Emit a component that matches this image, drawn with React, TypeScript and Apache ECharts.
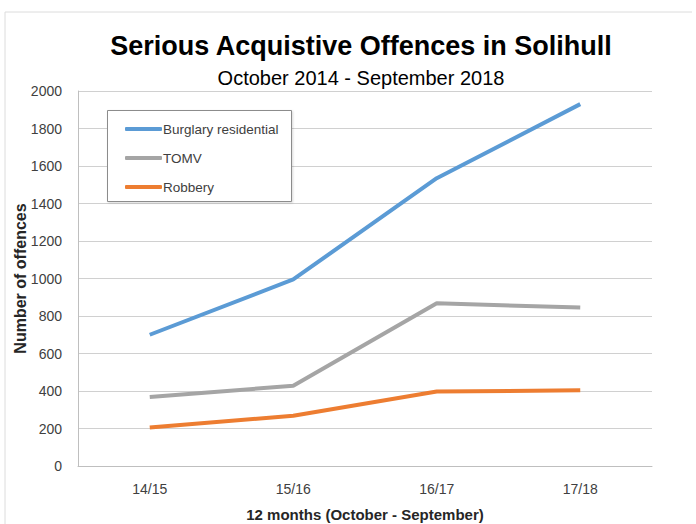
import React, { useEffect, useRef } from "react";
import * as echarts from "echarts";

const categories = ["14/15", "15/16", "16/17", "17/18"];
const burglary = [700, 995, 1535, 1930];
const tomv = [368, 428, 868, 845];
const robbery = [205, 268, 397, 404];
const seriesNames = ["Burglary residential", "TOMV", "Robbery"];
const colors = ["#5B9BD5", "#A5A5A5", "#ED7D31"];

export default function App() {
  const ref = useRef<HTMLDivElement>(null);
  useEffect(() => {
    if (!ref.current) return;
    const chart = echarts.init(ref.current, null, { renderer: "svg" });
    const font = "Liberation Sans, Arial, sans-serif";
    const dataSets = [burglary, tomv, robbery];
    chart.setOption({
      animation: false,
      backgroundColor: "#ffffff",
      title: {
        text: "Serious Acquistive Offences in Solihull",
        subtext: "October 2014 - September 2018",
        left: 356,
        top: 27,
        textAlign: "center",
        itemGap: 9,
        textStyle: { fontFamily: font, fontSize: 27, fontWeight: "bold", color: "#000" },
        subtextStyle: { fontFamily: font, fontSize: 20, color: "#000" },
      },
      graphic: [
        { type: "line", shape: { x1: 5, y1: 12, x2: 692, y2: 12 }, style: { stroke: "#dcdcdc", lineWidth: 1 } },
        { type: "line", shape: { x1: 5, y1: 12, x2: 5, y2: 524 }, style: { stroke: "#dcdcdc", lineWidth: 1 } },
        {
          type: "rect",
          shape: { x: 107.5, y: 110.5, width: 184, height: 91 },
          style: { fill: "#ffffff", stroke: "#8c8c8c", lineWidth: 1, shadowColor: "rgba(0,0,0,0.15)", shadowBlur: 2, shadowOffsetX: 1, shadowOffsetY: 1 },
          z: 5,
        },
      ],
      legend: {
        orient: "vertical",
        left: 120,
        top: 117,
        itemWidth: 37,
        itemHeight: 4,
        itemGap: 15,
        z: 10,
        data: seriesNames.map((n) => ({ name: n, icon: "roundRect" })),
        textStyle: { fontFamily: font, fontSize: 13.5, color: "#404040", padding: [0, 0, 0, -4] },
      },
      grid: { left: 78, right: 44, top: 91, bottom: 58, outerBoundsMode: "none" },
      xAxis: {
        type: "category",
        data: categories,
        boundaryGap: true,
        name: "12 months (October - September)",
        nameLocation: "middle",
        nameGap: 41,
        nameMoveOverlap: false,
        nameTextStyle: { fontFamily: font, fontSize: 15, fontWeight: "bold", color: "#262626" },
        axisLine: { show: true, lineStyle: { color: "#bfbfbf", width: 1 } },
        axisTick: { show: false },
        axisLabel: { fontFamily: font, fontSize: 14, color: "#404040", margin: 16 },
      },
      yAxis: {
        type: "value",
        min: 0,
        max: 2000,
        interval: 200,
        name: "Number of offences",
        nameLocation: "middle",
        nameGap: 50,
        nameMoveOverlap: false,
        nameTextStyle: { fontFamily: font, fontSize: 16, fontWeight: "bold", color: "#262626" },
        axisLine: { show: true, lineStyle: { color: "#bfbfbf", width: 1 } },
        axisTick: { show: false },
        axisLabel: { fontFamily: font, fontSize: 14, color: "#404040", margin: 16, formatter: (v: number) => String(v) },
        splitLine: { show: true, lineStyle: { color: "#d0d0d0", width: 1 } },
      },
      series: seriesNames.map((name, i) => ({
        name,
        type: "line",
        data: dataSets[i],
        symbol: "none",
        color: colors[i],
        lineStyle: { color: colors[i], width: 4 },
        itemStyle: { color: colors[i] },
      })),
    });
    return () => chart.dispose();
  }, []);
  return <div ref={ref} style={{ position: "absolute", left: 0, top: 0, width: 696, height: 524 }} />;
}
